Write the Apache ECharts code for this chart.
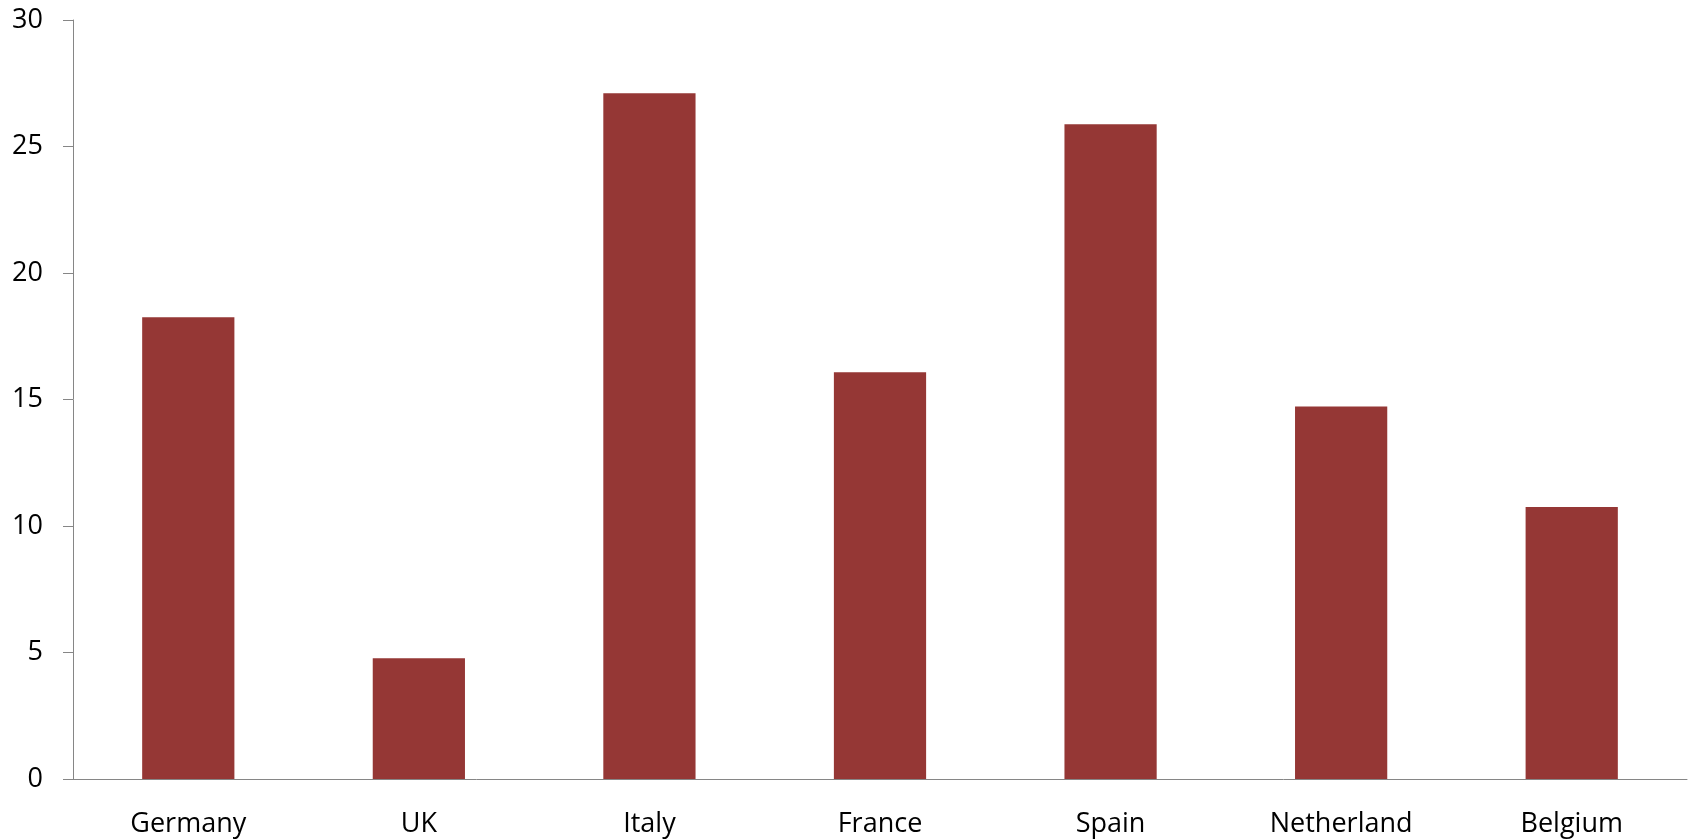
<!DOCTYPE html>
<html>
<head>
<meta charset="utf-8">
<script src="https://cdn.jsdelivr.net/npm/echarts@6/dist/echarts.min.js"></script>
<style>
  html, body { margin: 0; padding: 0; background: #fff; }
  #main { width: 1694px; height: 839px; }
</style>
</head>
<body>
<div id="main"></div>
<script>
// 数据
const countries = ['Germany', 'UK', 'Italy', 'France', 'Spain', 'Netherland', 'Belgium'];
const values = [18.25, 4.77, 27.1, 16.08, 25.88, 14.72, 10.75];
const yTicks = [0, 5, 10, 15, 20, 25, 30];

const chart = echarts.init(document.getElementById('main'));

const axisColor = '#868686';
const labelFont = {
  color: '#000',
  fontSize: 27,
  fontFamily: 'Open Sans'
};

const option = {
  animation: false,
  grid: {
    left: 73,
    right: 7,
    top: 20,
    bottom: 60
  },
  xAxis: {
    type: 'category',
    data: countries,
    axisLine: { lineStyle: { color: axisColor, width: 1 } },
    axisTick: { length: 10, lineStyle: { color: axisColor } },
    axisLabel: Object.assign({ margin: 32, interval: 0 }, labelFont),
    splitLine: { show: false }
  },
  yAxis: {
    type: 'value',
    min: yTicks[0],
    max: yTicks[yTicks.length - 1],
    interval: yTicks[1] - yTicks[0],
    axisLine: { show: true, lineStyle: { color: axisColor, width: 1 } },
    axisTick: { show: true, length: 10, lineStyle: { color: axisColor } },
    axisLabel: Object.assign({ margin: 30 }, labelFont),
    splitLine: { show: false }
  },
  series: [{
    type: 'bar',
    data: values,
    barCategoryGap: '60%',
    itemStyle: { color: '#953735' }
  }]
};

chart.setOption(option);
</script>
</body>
</html>
